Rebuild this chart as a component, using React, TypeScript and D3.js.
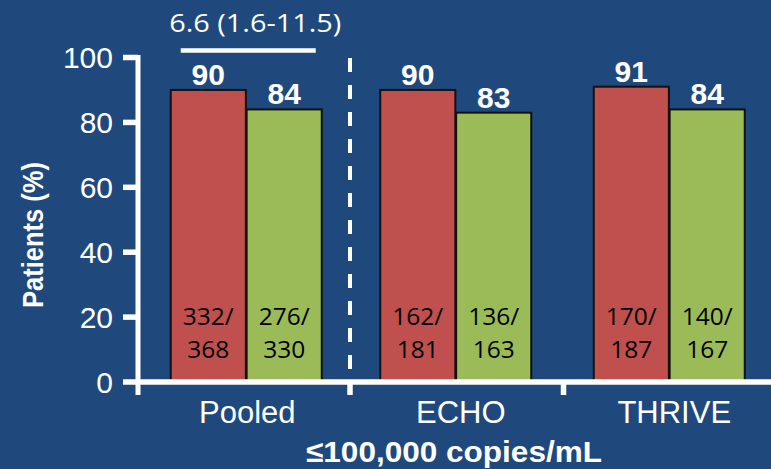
import React from 'react';
import * as d3 from 'd3';

const categories = ['Pooled', 'ECHO', 'THRIVE'];
const seriesNames = ['Rilpivirine', 'Efavirenz'];
const redValues = [90, 90, 91];
const greenValues = [84, 83, 84];
const redFractions = [['332/', '368'], ['162/', '181'], ['170/', '187']];
const greenFractions = [['276/', '330'], ['136/', '163'], ['140/', '167']];
const yTicks = [0, 20, 40, 60, 80, 100];
const annotationText = '6.6 (1.6-11.5)';
const xTitle = '≤100,000 copies/mL';
const yTitle = 'Patients (%)';

const W = 771;
const H = 469;
const BG = '#1F497D';
const RED = '#C0504D';
const GREEN = '#9BBB59';
const SANS = '"Liberation Sans", Arial, sans-serif';
const CAL = '"Open Sans", "Noto Sans", sans-serif';

export default function App() {
  const y = d3.scaleLinear().domain([0, 100]).range([382, 57.5]);
  const x0 = d3.scaleBand<string>().domain(categories).range([136.5, 777]).paddingInner(0).paddingOuter(0);
  const bw = x0.bandwidth();
  const pairW = 151;
  const x1 = d3.scaleBand<string>().domain(seriesNames).range([0, pairW]).paddingInner(0.01);
  const barW = x1.bandwidth();
  const groupX = (c: string, i: number) => (x0(c) as number) + (bw - pairW) / 2 + (i === 0 ? 3 : -1);
  const axisX = 138;
  const base = y(0);

  const data = categories.map((c, i) => ({
    c,
    i,
    bars: [
      { s: seriesNames[0], v: redValues[i], fill: RED, frac: redFractions[i] },
      { s: seriesNames[1], v: greenValues[i], fill: GREEN, frac: greenFractions[i] },
    ],
  }));

  const pooledX = groupX(categories[0], 0);
  const annX1 = pooledX + (x1(seriesNames[0]) as number) + 10;
  const annX2 = pooledX + (x1(seriesNames[1]) as number) + barW - 6;
  const dividerX = x0(categories[1]) as number;
  const edges = categories.slice(1).map((c) => x0(c) as number).concat([(x0(categories[2]) as number) + bw]);

  return (
    <svg width={W} height={H} style={{ position: 'absolute', left: 0, top: 0, display: 'block' }}>
      <rect x={0} y={0} width={W} height={H} fill={BG} />

      {data.map((g) => (
        <g key={g.c}>
          {g.bars.map((b) => {
            const bx = groupX(g.c, g.i) + (x1(b.s) as number);
            const by = y(b.v);
            return (
              <g key={b.s}>
                <rect x={bx} y={by} width={barW} height={base - by} fill={b.fill} stroke="#111" strokeWidth={2} />
                <text x={bx + barW / 2} y={by - 5} textAnchor="middle" fill="#fff" fontFamily={SANS} fontWeight="bold" fontSize={30}>
                  {b.v}
                </text>
                <text x={bx + barW / 2} y={base - 57} textAnchor="middle" fill="#000" fontFamily={CAL} fontSize={24.5}>
                  {b.frac[0]}
                </text>
                <text x={bx + barW / 2} y={base - 24} textAnchor="middle" fill="#000" fontFamily={CAL} fontSize={24.5}>
                  {b.frac[1]}
                </text>
              </g>
            );
          })}
        </g>
      ))}

      <line x1={dividerX} x2={dividerX} y1={58} y2={base} stroke="#fff" strokeWidth={4} strokeDasharray="14 13" />

      <line x1={axisX} x2={W} y1={base} y2={base} stroke="#fff" strokeWidth={5.5} />
      {edges.map((e, i) => (
        <line key={i} x1={e} x2={e} y1={base} y2={395} stroke="#fff" strokeWidth={5.5} />
      ))}

      <line x1={axisX} x2={axisX} y1={y(100) - 2.5} y2={395} stroke="#fff" strokeWidth={5} />
      {yTicks.map((t) => (
        <g key={t}>
          <line x1={123} x2={axisX} y1={y(t)} y2={y(t)} stroke="#fff" strokeWidth={5.5} />
          <text x={113} y={y(t)} dy="0.36em" textAnchor="end" fill="#fff" fontFamily={SANS} fontSize={30}>
            {t}
          </text>
        </g>
      ))}

      {categories.map((c) => (
        <text key={c} x={(x0(c) as number) + bw / 2 + 4} y={423} textAnchor="middle" fill="#fff" fontFamily={SANS} fontSize={31}>
          {c}
        </text>
      ))}

      <text x={454} y={462} textAnchor="middle" fill="#fff" fontFamily={SANS} fontWeight="bold" fontSize={30} textLength={296} lengthAdjust="spacingAndGlyphs">
        {xTitle}
      </text>
      <text
        transform="translate(43,235) rotate(-90)"
        textAnchor="middle"
        fill="#fff"
        fontFamily={SANS}
        fontWeight="bold"
        fontSize={30}
        textLength={146}
        lengthAdjust="spacingAndGlyphs"
      >
        {yTitle}
      </text>

      <line x1={annX1} x2={annX2} y1={50.5} y2={50.5} stroke="#fff" strokeWidth={4.5} />
      <text x={(annX1 + annX2) / 2 + 7} y={32} textAnchor="middle" fill="#fff" fontFamily={CAL} fontSize={26} textLength={172} lengthAdjust="spacingAndGlyphs">
        {annotationText}
      </text>
    </svg>
  );
}
